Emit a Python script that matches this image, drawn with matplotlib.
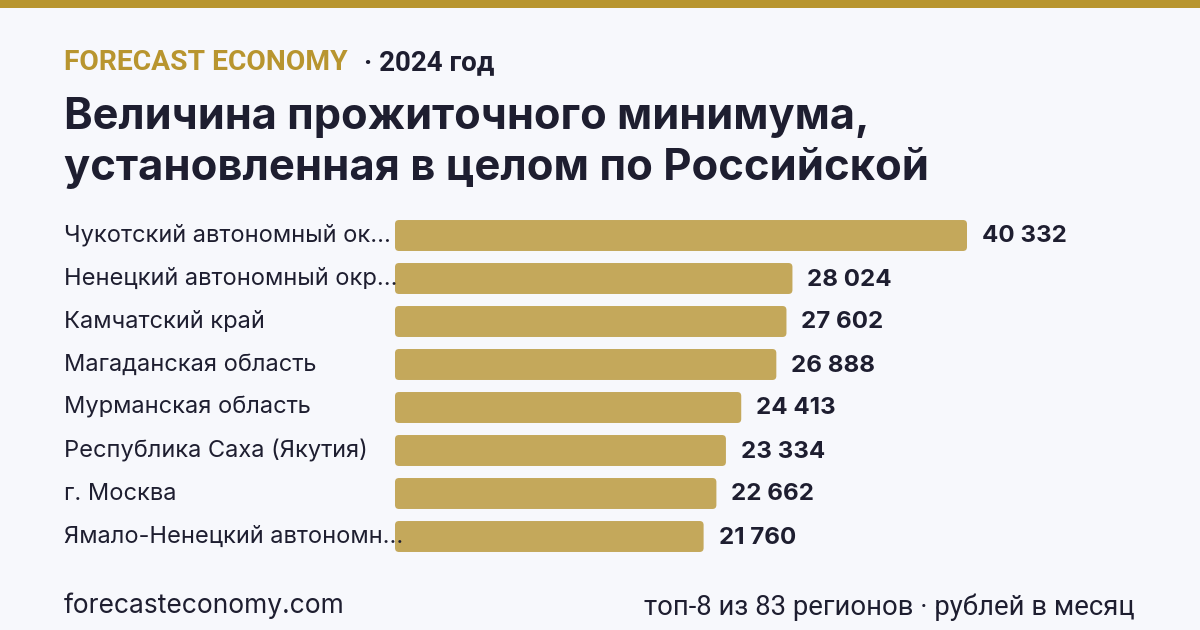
import matplotlib.pyplot as plt
from matplotlib.patches import FancyBboxPatch, Rectangle
from matplotlib.transforms import blended_transform_factory

# данные
regions = [
    "Чукотский автономный ок...",
    "Ненецкий автономный окр...",
    "Камчатский край",
    "Магаданская область",
    "Мурманская область",
    "Республика Саха (Якутия)",
    "г. Москва",
    "Ямало-Ненецкий автономн...",
]
values = [40332, 28024, 27602, 26888, 24413, 23334, 22662, 21760]
value_labels = ["40 332", "28 024", "27 602", "26 888", "24 413", "23 334", "22 662", "21 760"]

title_lines = ["Величина прожиточного минимума,", "установленная в целом по Российской"]
brand = "FORECAST ECONOMY"
year = "· 2024 год"
footer_left = "forecasteconomy.com"
footer_right = "топ-8 из 83 регионов · рублей в месяц"

bg = "#F7F8FC"
gold = "#B8952F"
bar_color = "#C4A85B"
dark = "#1E1E30"

W, H = 1200, 630
fig = plt.figure(figsize=(12, 6.3), dpi=100, facecolor=bg)

# полоска сверху
fig.patches.append(Rectangle((0, 1 - 8 / H), 1, 8 / H, transform=fig.transFigure,
                             facecolor=gold, edgecolor="none"))

# шапка
fig.text(64 / W, 1 - 63 / H, brand, fontfamily="Roboto", fontweight="bold",
         fontsize=20.3, color=gold, va="center", ha="left")
fig.text(364 / W, 1 - 63 / H, year, fontfamily="Roboto", fontweight="bold",
         fontsize=20, color=dark, va="center", ha="left")
fig.text(64 / W, 1 - 118 / H, title_lines[0], fontfamily="Inter", fontweight="bold",
         fontsize=31.2, color=dark, va="center", ha="left")
fig.text(64 / W, 1 - 168 / H, title_lines[1], fontfamily="Inter", fontweight="bold",
         fontsize=31.4, color=dark, va="center", ha="left")

# область с барами
x0, x1 = 395, 967
y_top, y_bot = 214, 558
ax = fig.add_axes([x0 / W, 1 - y_bot / H, (x1 - x0) / W, (y_bot - y_top) / H])
ax.set_facecolor("none")
ax.set_xlim(0, values[0])
ax.set_ylim(len(values) - 0.5, -0.5)
ax.axis("off")

bars = ax.barh(range(len(values)), values, height=0.72, color=bar_color)
px_x = values[0] / (x1 - x0)
px_y = len(values) / (y_bot - y_top)
for b in bars:
    b.set_visible(False)
    ax.add_patch(FancyBboxPatch((b.get_x(), b.get_y()), b.get_width(), b.get_height(),
                                boxstyle="round,pad=0,rounding_size=%f" % (4 * px_x),
                                mutation_aspect=px_y / px_x,
                                facecolor=bar_color, edgecolor="none"))

trans = blended_transform_factory(fig.transFigure, ax.transData)
for i, (name, v, lab) in enumerate(zip(regions, values, value_labels)):
    ax.text(64 / W, i, name, transform=trans, fontfamily="Inter", fontsize=17,
            color=dark, va="center", ha="left")
    ax.annotate(lab, (v, i), xytext=(15, -1), textcoords="offset pixels",
                fontfamily="Inter", fontweight="bold", fontsize=17.4, color=dark,
                va="center", ha="left")

# подвал
fig.text(64 / W, 1 - 606 / H, footer_left, fontfamily="Inter", fontsize=19,
         color=dark, va="center", ha="left")
fig.text(1135 / W, 1 - 607 / H, footer_right, fontfamily="Roboto", fontsize=19.8,
         color=dark, va="center", ha="right")

fig.savefig("out.png", dpi=100, facecolor=bg)
